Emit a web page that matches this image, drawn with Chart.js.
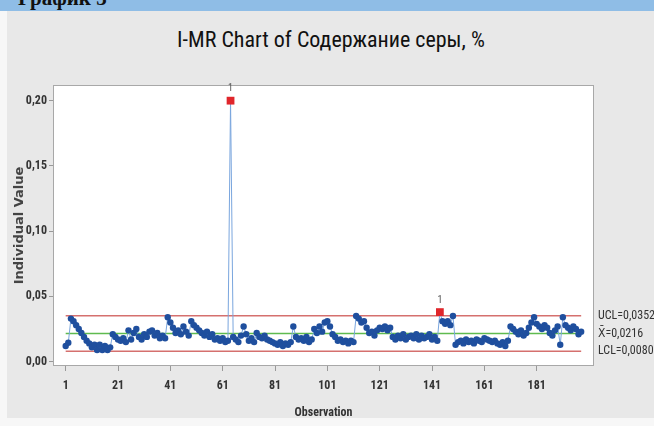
<!DOCTYPE html>
<html>
<head>
<meta charset="utf-8">
<script src="https://cdn.jsdelivr.net/npm/chart.js@4.4.1/dist/chart.umd.min.js"></script>
<style>
  html, body { margin: 0; padding: 0; background: #fff; }
  #wrap { position: relative; width: 654px; height: 426px; overflow: hidden; background: #f7f7f7; }
  #band { position: absolute; left: 0; top: 0; width: 654px; height: 11px; background: #8fbde6; overflow: hidden; }
  #band span { position: absolute; left: 18px; top: -14px; font: bold 21px "Liberation Serif", serif; color: #111; }
  #panel { position: absolute; left: 7px; top: 11px; width: 647px; height: 407px; background: #e8e8e8; }
  #title { position: absolute; left: 4px; top: 27px; width: 654px; text-align: center;
           font: 22px "Roboto Condensed", "DejaVu Sans Condensed", "Liberation Sans Narrow", Arial, sans-serif; color: #111; }
  #chart { position: absolute; left: 0; top: 0; }
</style>
</head>
<body>
<div id="wrap">
  <div id="band"><span>График 3</span></div>
  <div id="panel"></div>
  <div id="title">I-MR Chart of Содержание серы, %</div>
  <canvas id="chart" width="654" height="426"></canvas>
</div>
<script>
// individual values, observations 1..198
const sulfur = [
  0.012, 0.0145, 0.033, 0.031, 0.028, 0.025, 0.022, 0.019, 0.016, 0.014,
  0.011, 0.013, 0.009, 0.013, 0.009, 0.012, 0.009, 0.011, 0.021, 0.019,
  0.017, 0.016, 0.018, 0.015, 0.024, 0.017, 0.022, 0.025, 0.019, 0.017,
  0.021, 0.019, 0.023, 0.024, 0.020, 0.022, 0.018, 0.020, 0.018,
  0.034, 0.030, 0.026, 0.022, 0.024, 0.021, 0.027, 0.023, 0.020, 0.031,
  0.028, 0.026, 0.024, 0.022, 0.020, 0.023, 0.019, 0.021, 0.017, 0.018,
  0.016, 0.018, 0.015, 0.016, 0.200, 0.019, 0.017, 0.015, 0.020, 0.027,
  0.021, 0.016, 0.018, 0.015, 0.022, 0.019, 0.018, 0.020, 0.017, 0.016,
  0.015, 0.014, 0.013, 0.015, 0.012, 0.014, 0.013, 0.015, 0.027, 0.019,
  0.017, 0.018, 0.016, 0.019, 0.015, 0.017, 0.025, 0.022, 0.027, 0.023,
  0.030, 0.031, 0.027, 0.021, 0.019, 0.016, 0.017, 0.015, 0.016, 0.014,
  0.016, 0.015, 0.035, 0.033, 0.030, 0.031, 0.026, 0.022, 0.023, 0.020,
  0.024, 0.026, 0.025, 0.027, 0.024, 0.026, 0.019, 0.017, 0.020, 0.018,
  0.021, 0.017, 0.019, 0.020, 0.018, 0.021, 0.017, 0.020, 0.018, 0.019,
  0.021, 0.017, 0.019, 0.016, 0.038, 0.031, 0.029, 0.031, 0.028, 0.035,
  0.013, 0.015, 0.016, 0.014, 0.017, 0.015, 0.016, 0.014, 0.017, 0.016,
  0.015, 0.018, 0.017, 0.016, 0.015, 0.016, 0.014, 0.013, 0.015, 0.012,
  0.016, 0.027, 0.025, 0.023, 0.021, 0.024, 0.020, 0.022, 0.026, 0.030,
  0.034, 0.029, 0.027, 0.025, 0.028, 0.026, 0.022, 0.020, 0.024, 0.027,
  0.013, 0.034, 0.028, 0.026, 0.024, 0.027, 0.025, 0.021, 0.023
];
const UCL = 0.0352;
const CENTER = 0.0216;
const LCL = 0.0080;
const xTicks = [1, 21, 41, 61, 81, 101, 121, 141, 161, 181];
const yTicks = [0, 0.05, 0.10, 0.15, 0.20];
const limitLabels = ['UCL=0,0352', 'X\u0304=0,0216', 'LCL=0,0080'];

const points = sulfur.map((v, i) => ({ x: i + 1, y: v }));
const flagged = points.filter(p => p.y > UCL);
const first = 1, last = sulfur.length;
const hline = y => [{ x: first, y: y }, { x: last, y: y }];

const NARROW = '"Roboto Condensed", "DejaVu Sans Condensed", "Liberation Sans Narrow", Arial, sans-serif';
Chart.defaults.font.family = NARROW;
Chart.defaults.color = '#333';

// white plot area + frame, labels for limits and flagged points
const decor = {
  id: 'decor',
  beforeDraw(chart) {
    const { ctx, chartArea: a } = chart;
    ctx.save();
    ctx.fillStyle = '#fff';
    ctx.fillRect(a.left, a.top, a.right - a.left, a.bottom - a.top);
    ctx.restore();
  },
  afterDraw(chart) {
    const { ctx, chartArea: a, scales } = chart;
    ctx.save();
    ctx.strokeStyle = '#a8a8a8';
    ctx.lineWidth = 1;
    ctx.strokeRect(a.left + 0.5, a.top + 0.5, a.right - a.left - 1, a.bottom - a.top - 1);
    ctx.fillStyle = '#333';
    ctx.font = '12px ' + NARROW;
    ctx.textBaseline = 'middle';
    ctx.textAlign = 'left';
    [UCL, CENTER, LCL].forEach((v, i) => {
      ctx.fillText(limitLabels[i], a.right + 4, scales.y.getPixelForValue(v));
    });
    ctx.fillStyle = '#555';
    ctx.font = '10px ' + NARROW;
    ctx.textAlign = 'center';
    ctx.textBaseline = 'bottom';
    flagged.forEach(p => {
      ctx.fillText('1', scales.x.getPixelForValue(p.x), scales.y.getPixelForValue(p.y) - 7);
    });
    ctx.restore();
  }
};

new Chart(document.getElementById('chart'), {
  type: 'scatter',
  data: {
    datasets: [
      {
        label: 'flagged',
        data: flagged,
        pointStyle: 'rect',
        pointRadius: 5.5,
        pointBackgroundColor: '#e0262b',
        pointBorderWidth: 0,
        showLine: false
      },
      {
        label: 'Individual Value',
        data: points,
        showLine: true,
        borderColor: '#7aa6de',
        borderWidth: 1,
        pointRadius: 3.2,
        pointBackgroundColor: '#1f4f9e',
        pointBorderWidth: 0
      },
      { label: 'UCL', data: hline(UCL), showLine: true, borderColor: '#d5706e', borderWidth: 1.5, pointRadius: 0 },
      { label: 'X', data: hline(CENTER), showLine: true, borderColor: '#5fbb4f', borderWidth: 1.5, pointRadius: 0 },
      { label: 'LCL', data: hline(LCL), showLine: true, borderColor: '#d5706e', borderWidth: 1.5, pointRadius: 0 }
    ]
  },
  options: {
    responsive: false,
    animation: false,
    layout: { padding: { left: 0, top: 85, right: 60, bottom: 0 } },
    plugins: { legend: { display: false }, tooltip: { enabled: false } },
    scales: {
      x: {
        type: 'linear',
        min: -3.85,
        max: 202.9,
        afterFit: s => { s.height = 60; },
        afterBuildTicks: s => { s.ticks = xTicks.map(v => ({ value: v })); },
        grid: { drawOnChartArea: false, tickLength: 5, color: '#999' },
        border: { display: false },
        ticks: { padding: 8, font: { size: 12, weight: 'bold' }, color: '#333' },
        title: { display: true, text: 'Observation', font: { size: 12, weight: 'bold' },
                 color: '#333', padding: { top: 0, bottom: 6 } }
      },
      y: {
        min: -0.0033,
        max: 0.212,
        afterFit: s => { s.width = 53; },
        afterBuildTicks: s => { s.ticks = yTicks.map(v => ({ value: v })); },
        grid: { drawOnChartArea: false, tickLength: 4, color: '#999' },
        border: { display: false },
        ticks: { padding: 2, font: { size: 12, weight: 'bold' }, color: '#333',
                 callback: v => v.toFixed(2).replace('.', ',') },
        title: { display: true, text: 'Individual Value',
                 font: { family: '"DejaVu Sans", Verdana, sans-serif', size: 13, weight: 'bold' },
                 color: '#444', padding: { top: 12, bottom: 0 } }
      }
    }
  },
  plugins: [decor]
});
</script>
</body>
</html>
